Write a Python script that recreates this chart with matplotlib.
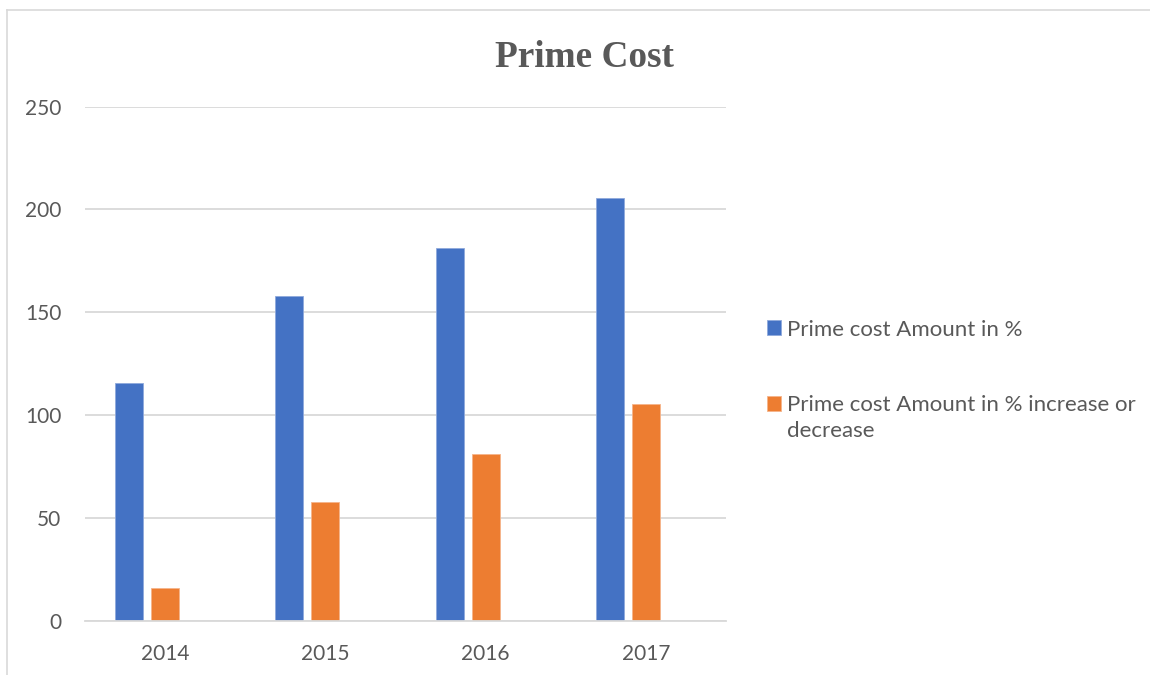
import numpy as np
import matplotlib.pyplot as plt
from matplotlib.lines import Line2D

#-----data
years = ['2014', '2015', '2016', '2017']
amount = [115.8, 157.9, 181.1, 205.4]
change = [15.8, 57.9, 81.1, 105.4]
label_amount = 'Prime cost Amount in %'
label_change = 'Prime cost Amount in % increase or'
label_change_2 = 'decrease'

blue = '#4472C4'
orange = '#ED7D31'
grey_txt = '#595959'
grid_c = '#D9D9D9'

plt.rcParams['font.family'] = ['Lato', 'DejaVu Sans']

fig = plt.figure(figsize=(11.5, 6.75), dpi=100)
ax = fig.add_axes([85/1150, 54.3/675, 641/1150, 514/675])

x = np.arange(len(years))
w = 0.175
b1 = ax.bar(x - 0.225, amount, w, color=blue, edgecolor='#8FA9DC', linewidth=0.6)
b2 = ax.bar(x, change, w, color=orange, edgecolor='#F5B48A', linewidth=0.6)

ax.set_xlim(-0.5, 3.5)
ax.set_ylim(0, 250)
ax.set_yticks([0, 50, 100, 150, 200, 250])
ax.set_xticks(x)
ax.set_xticklabels(years)
ax.yaxis.grid(True, color=grid_c, linewidth=1.3)
ax.set_axisbelow(True)
for s in ['top', 'right', 'left']:
    ax.spines[s].set_visible(False)
ax.spines['bottom'].set_color(grid_c)
ax.spines['bottom'].set_linewidth(1.3)
ax.tick_params(axis='both', length=0, labelsize=15, labelcolor=grey_txt)
ax.tick_params(axis='y', pad=17)
ax.tick_params(axis='x', pad=17)

#-----title
fig.text(584/1150, (675-66.7)/675, 'Prime Cost', ha='center', va='baseline',
         fontsize=26.8, fontweight='bold', family='Liberation Serif', color=grey_txt)

#-----legend
leg = fig.legend([b1, b2], [label_amount, label_change], loc='upper left',
                 bbox_to_anchor=(767/1150, (675-319.5)/675), frameon=False,
                 fontsize=16, labelcolor=grey_txt, borderpad=0, borderaxespad=0,
                 handlelength=0.63, handleheight=0.63, handletextpad=0.27,
                 labelspacing=2.5)
fig.text(787/1150, (675-437)/675, label_change_2, ha='left', va='baseline',
         fontsize=16, color=grey_txt)

#-----chart border (left and top edges)
fig.add_artist(Line2D([7.3/1150, 7.3/1150], [0, (675-10.3)/675],
                      transform=fig.transFigure, color=grid_c, linewidth=1.2))
fig.add_artist(Line2D([7.3/1150, 1], [(675-10.3)/675, (675-10.3)/675],
                      transform=fig.transFigure, color=grid_c, linewidth=1.2))

plt.savefig('out.png')
